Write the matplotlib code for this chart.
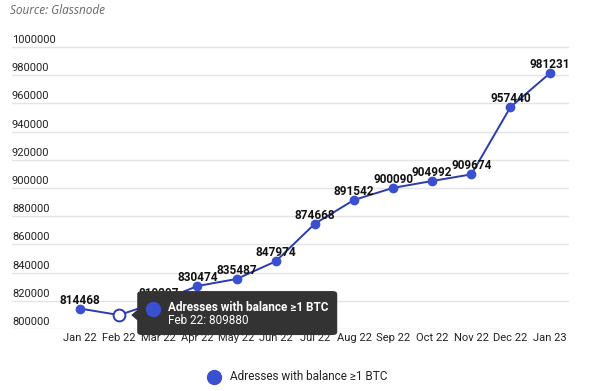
import matplotlib
matplotlib.use("Agg")
import matplotlib.pyplot as plt
from matplotlib.patches import FancyBboxPatch, Polygon
from matplotlib.lines import Line2D

months = ["Jan 22", "Feb 22", "Mar 22", "Apr 22", "May 22", "Jun 22", "Jul 22",
          "Aug 22", "Sep 22", "Oct 22", "Nov 22", "Dec 22", "Jan 23"]
addresses = [814468, 809880, 819297, 830474, 835487, 847974, 874668,
             891542, 900090, 904992, 909674, 957440, 981231]
y_ticks = [800000, 820000, 840000, 860000, 880000, 900000, 920000,
           940000, 960000, 980000, 1000000]
series_name = "Adresses with balance \u22651 BTC"
hover_idx = 1

plt.rcParams['font.family'] = ['Roboto', 'DejaVu Sans']

LINE = "#2a3cb0"
DOT = "#3a50d0"

fig = plt.figure(figsize=(6, 3.91), dpi=100)
ax = fig.add_axes([0.02, 0.1586, 0.928, 0.739])

x = list(range(len(months)))
ax.plot(x, addresses, color=LINE, lw=1.4, zorder=3)
for i, v in enumerate(addresses):
    if i == hover_idx:
        # hovered point: hollow marker, its label is hidden
        ax.plot(i, v, 'o', ms=8.5, mfc='white', mec=LINE, mew=1.4, zorder=4)
        continue
    ax.plot(i, v, 'o', ms=6, mfc=DOT, mec=DOT, zorder=4)
    ax.annotate(str(v), (i, v), xytext=(0, 1.5), textcoords='offset points',
                ha='center', va='bottom', fontsize=8.5, fontweight='bold',
                color='#111111', zorder=5)

ax.set_xlim(-1.74, 12.49)
ax.set_ylim(800000, 1004965)

# gridlines with labels sitting on top, inside the plot
for t in y_ticks:
    ax.axhline(t, color='#e4e4e4', lw=1, zorder=1)
    ax.text(-1.74, t + 1400, str(t), ha='left', va='bottom', fontsize=8,
            color='#222222', zorder=2)
ax.set_yticks([])
ax.set_xticks(x)
ax.set_xticklabels(months, fontsize=8, color='#222222')
ax.tick_params(axis='x', length=0, pad=3)
for s in ax.spines.values():
    s.set_visible(False)

fig.text(10 / 600, 1 - 10 / 391, "Source: Glassnode", ha='left', va='center',
         fontsize=8.5, style='italic', color='#666666',
         family=['Open Sans', 'DejaVu Sans'])

# tooltip anchored to the hovered point
fig.canvas.draw()
px, py = ax.transData.transform((hover_idx, addresses[hover_idx]))
W, H = 600.0, 391.0


def fpt(dx, dy):
    return ((px + dx) / W, (py + dy) / H)


bx, by = fpt(18, -20)
box = FancyBboxPatch((bx, by), 200 / W, 44 / H,
                     boxstyle="round,pad=0,rounding_size=0.008",
                     transform=fig.transFigure, fc='#333333', ec='none', zorder=10)
fig.patches.append(box)
tri = Polygon([fpt(12, 0), fpt(19, 6), fpt(19, -6)], closed=True,
              transform=fig.transFigure, fc='#333333', ec='none', zorder=10)
fig.patches.append(tri)
cx, cy = fpt(34, 6)
fig.add_artist(Line2D([cx], [cy], marker='o', ms=10, mfc=DOT, mec=DOT,
                      transform=fig.transFigure, zorder=11))
tx, ty = fpt(49, 8)
fig.text(tx, ty, series_name, ha='left', va='center', fontsize=8.5,
         fontweight='bold', color='white', zorder=11)
tx2, ty2 = fpt(49, -5)
fig.text(tx2, ty2, f"{months[hover_idx]}: {addresses[hover_idx]}", ha='left',
         va='center', fontsize=8.5, color='white', zorder=11)

# legend
fig.add_artist(Line2D([214 / W], [1 - 377 / H], marker='o', ms=10, mfc=DOT,
                      mec=DOT, transform=fig.transFigure))
fig.text(230 / W, 1 - 377 / H, series_name, ha='left', va='center',
         fontsize=8.5, color='#222222')

fig.savefig("out.png", dpi=100)
